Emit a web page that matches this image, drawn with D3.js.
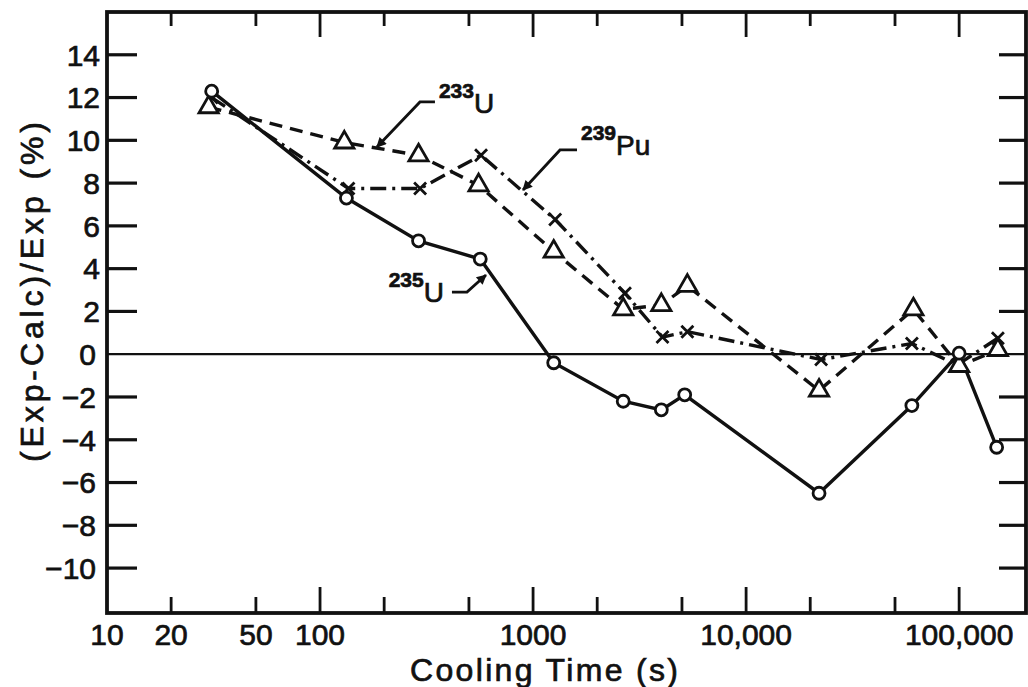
<!DOCTYPE html>
<html>
<head>
<meta charset="utf-8">
<script src="https://cdn.jsdelivr.net/npm/d3@7"></script>
<style>
  body { margin: 0; background: #fff; }
  text { font-family: "Liberation Sans", Arial, sans-serif; fill: #111; stroke: #111; stroke-width: 0.7px; }
</style>
</head>
<body>
<svg id="chart" width="1028" height="687"></svg>
<script>
// cooling time (s) and (Exp-Calc)/Exp (%)
const times235 = [31, 133, 290, 565, 1250, 2650, 4000, 5150, 22000, 60000, 100000, 150000];
const dev235   = [12.3, 7.3, 5.3, 4.45, -0.4, -2.2, -2.6, -1.9, -6.5, -2.4, 0.05, -4.35];

const times233 = [30, 130, 290, 555, 1250, 2650, 4000, 5300, 22000, 61000, 100000, 152000];
const dev233   = [11.55, 9.9, 9.3, 7.9, 4.8, 2.1, 2.3, 3.2, -1.7, 2.1, -0.55, 0.2];

const times239 = [31, 136, 295, 570, 1270, 2700, 4050, 5300, 22500, 60000, 98000, 152000];
const dev239   = [12.0, 7.75, 7.75, 9.3, 6.3, 2.85, 0.8, 1.05, -0.25, 0.5, -0.5, 0.75];

const timeMajor  = [100, 1000, 10000, 100000];
const timeMinor  = [20, 50, 200, 500, 2000, 5000, 20000, 50000];
const timeLabels = ["10", "20", "50", "100", "1000", "10,000", "100,000"];
const timeLabelAt = [10, 20, 50, 100, 1000, 10000, 100000];
const devTicks   = [-10, -8, -6, -4, -2, 2, 4, 6, 8, 10, 12, 14];
const devLabels  = [-10, -8, -6, -4, -2, 0, 2, 4, 6, 8, 10, 12, 14];

const svg = d3.select("#chart");
const box = {left: 107, right: 1026, top: 12, bottom: 613};

const x = d3.scaleLog().domain([10, 206000]).range([box.left, box.right]);
const y = d3.scaleLinear().domain([-12.1, 16.0]).range([box.bottom, box.top]);

// arrowhead for the leader lines
svg.append("defs").append("marker")
  .attr("id", "head")
  .attr("viewBox", "0 0 10 10")
  .attr("refX", 9).attr("refY", 5)
  .attr("markerWidth", 13).attr("markerHeight", 10)
  .attr("markerUnits", "userSpaceOnUse")
  .attr("orient", "auto")
  .append("path").attr("d", "M0,0L10,5L0,10z").attr("fill", "#111");

// ticks, inward on all four sides
const g = svg.append("g").attr("stroke", "#111").attr("stroke-width", 2.8);
timeMajor.forEach(t => {
  g.append("line").attr("x1", x(t)).attr("x2", x(t)).attr("y1", box.bottom).attr("y2", box.bottom - 26);
  g.append("line").attr("x1", x(t)).attr("x2", x(t)).attr("y1", box.top).attr("y2", box.top + 25);
});
timeMinor.forEach(t => {
  g.append("line").attr("x1", x(t)).attr("x2", x(t)).attr("y1", box.bottom).attr("y2", box.bottom - 16);
  g.append("line").attr("x1", x(t)).attr("x2", x(t)).attr("y1", box.top).attr("y2", box.top + 14);
});
devTicks.forEach(v => {
  g.append("line").attr("x1", box.left).attr("x2", box.left + 30).attr("y1", y(v)).attr("y2", y(v)).attr("stroke-width", 3.2);
  g.append("line").attr("x1", box.right).attr("x2", box.right - 27).attr("y1", y(v)).attr("y2", y(v)).attr("stroke-width", 3.2);
});

// zero line
svg.append("line")
  .attr("x1", box.left).attr("x2", box.right)
  .attr("y1", y(0)).attr("y2", y(0))
  .attr("stroke", "#111").attr("stroke-width", 2.2);

// frame
svg.append("rect")
  .attr("x", box.left).attr("y", box.top)
  .attr("width", box.right - box.left).attr("height", box.bottom - box.top)
  .attr("fill", "none").attr("stroke", "#111").attr("stroke-width", 3.8);

// tick labels
svg.append("g").selectAll("text").data(timeLabels).join("text")
  .attr("x", (d, i) => x(timeLabelAt[i])).attr("y", 645)
  .attr("text-anchor", "middle").attr("font-size", 30)
  .text(d => d)
  .each(function () {
    const b = this.getBBox();
    if (b.x + b.width > 1024) d3.select(this).attr("x", +d3.select(this).attr("x") - (b.x + b.width - 1023));
  });

svg.append("g").selectAll("text").data(devLabels).join("text")
  .attr("x", d => d < 1 ? 96 : 100).attr("y", d => y(d))
  .attr("dy", "0.36em")
  .attr("text-anchor", "end").attr("font-size", 30)
  .text(d => d3.format("")(d));

// axis titles
svg.append("text")
  .attr("x", 544).attr("y", 681)
  .attr("text-anchor", "middle").attr("font-size", 32)
  .attr("textLength", 268).attr("lengthAdjust", "spacing")
  .text("Cooling Time (s)");

svg.append("text")
  .attr("transform", "translate(43,292) rotate(-90)")
  .attr("text-anchor", "middle").attr("font-size", 32)
  .attr("textLength", 340).attr("lengthAdjust", "spacing")
  .text("(Exp-Calc)/Exp (%)");

// series
const line = d3.line().x(d => x(d[0])).y(d => y(d[1]));
const pts235 = d3.zip(times235, dev235);
const pts233 = d3.zip(times233, dev233);
const pts239 = d3.zip(times239, dev239);

svg.append("path").datum(pts239).attr("d", line)
  .attr("fill", "none").attr("stroke", "#111").attr("stroke-width", 3.4)
  .attr("stroke-dasharray", "16,6,3,6");
svg.append("path").datum(pts233).attr("d", line)
  .attr("fill", "none").attr("stroke", "#111").attr("stroke-width", 3.4)
  .attr("stroke-dasharray", "13,8");
svg.append("path").datum(pts235).attr("d", line)
  .attr("fill", "none").attr("stroke", "#111").attr("stroke-width", 3.4);

// markers
svg.append("g").selectAll("path").data(pts239).join("path")
  .attr("transform", d => `translate(${x(d[0])},${y(d[1])})`)
  .attr("d", "M-6,-6L6,6M-6,6L6,-6")
  .attr("stroke", "#111").attr("stroke-width", 2.8);

svg.append("g").selectAll("path").data(pts233).join("path")
  .attr("transform", d => `translate(${x(d[0])},${y(d[1])})`)
  .attr("d", d3.symbol(d3.symbolTriangle, 160))
  .attr("fill", "#fff").attr("stroke", "#111").attr("stroke-width", 2.8);

svg.append("g").selectAll("circle").data(pts235).join("circle")
  .attr("cx", d => x(d[0])).attr("cy", d => y(d[1])).attr("r", 6)
  .attr("fill", "#fff").attr("stroke", "#111").attr("stroke-width", 2.8);

// leader labels: arrow tip in data space, the rest offset in px
function leader(tipT, tipV, knee, end, lx, ly, anchor, sup, main) {
  const tx = x(tipT), ty = y(tipV);
  svg.append("path")
    .attr("d", `M${tx + end[0]},${ty + end[1]}L${tx + knee[0]},${ty + knee[1]}L${tx},${ty}`)
    .attr("fill", "none").attr("stroke", "#111").attr("stroke-width", 2.8)
    .attr("marker-end", "url(#head)");
  const t = svg.append("text")
    .attr("x", tx + lx).attr("y", ty + ly)
    .attr("text-anchor", anchor);
  t.append("tspan").attr("font-size", 21).attr("font-weight", "bold").attr("dy", -15).text(sup);
  t.append("tspan").attr("font-size", 28).attr("dy", 15).text(main);
}

leader(185, 9.69, [43, -45], [58, -45], 62, -34, "start", "233", "U");
leader(897, 7.68, [37, -40], [54, -40], 58, -35, "start", "239", "Pu");
leader(601, 3.70, [-19, 17], [-34, 17], -42, 27, "end", "235", "U");
</script>
</body>
</html>
